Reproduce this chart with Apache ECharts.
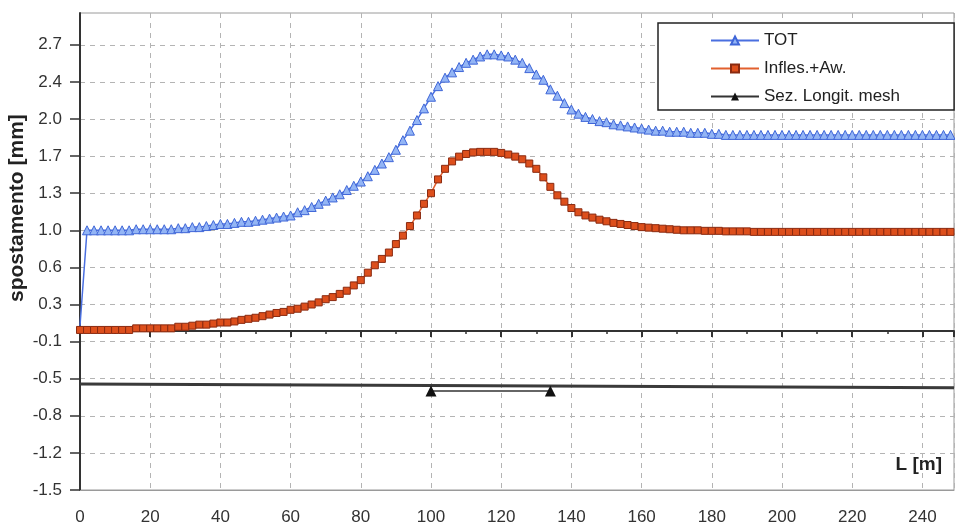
<!DOCTYPE html>
<html><head><meta charset="utf-8">
<script src="https://cdn.jsdelivr.net/npm/echarts@6/dist/echarts.min.js"></script>
<style>html,body{margin:0;padding:0;background:#fff}#c{width:955px;height:528px}</style>
</head><body><div id="c"></div>
<script>
// Distance along the section [m]
const L = [0,2,4,6,8,10,12,14,16,18,20,22,24,26,28,30,32,34,36,38,40,42,44,46,48,50,52,54,56,58,60,62,64,66,68,70,72,74,76,78,80,82,84,86,88,90,92,94,96,98,100,102,104,106,108,110,112,114,116,118,120,122,124,126,128,130,132,134,136,138,140,142,144,146,148,150,152,154,156,158,160,162,164,166,168,170,172,174,176,178,180,182,184,186,188,190,192,194,196,198,200,202,204,206,208,210,212,214,216,218,220,222,224,226,228,230,232,234,236,238,240,242,244,246,248];
// TOT [mm]
const tot = [0.05,0.95,0.95,0.95,0.95,0.95,0.95,0.95,0.96,0.96,0.96,0.96,0.96,0.96,0.97,0.97,0.98,0.98,
0.99,1.00,1.01,1.01,1.02,1.03,1.03,1.04,1.05,1.06,1.07,1.08,1.09,1.12,1.14,1.17,1.20,1.23,1.26,1.29,1.33,1.37,1.41,1.46,1.52,1.58,1.64,1.71,1.80,1.89,1.99,2.10,2.21,2.31,2.39,2.44,2.49,2.53,2.56,2.59,2.61,2.61,2.60,2.59,2.56,2.53,2.48,2.42,2.37,2.28,2.22,2.15,2.09,2.05,2.02,2.00,1.98,1.97,1.95,1.94,1.93,1.92,1.91,1.90,1.89,1.89,1.88,1.88,1.88,1.87,1.87,1.87,1.86,1.86,
1.85,1.85,1.85,1.85,1.85,1.85,1.85,1.85,1.85,1.85,1.85,
1.85,1.85,1.85,1.85,1.85,1.85,1.85,1.85,1.85,1.85,1.85,
1.85,1.85,1.85,1.85,1.85,1.85,1.85,1.85,1.85,1.85,1.85];
// Infles.+Aw. [mm]
const infles = [0.01,0.01,0.01,0.01,0.01,0.01,0.01,0.01,0.025,0.025,0.025,0.025,0.025,0.025,
0.04,0.04,0.05,0.06,0.06,0.07,0.08,0.08,0.09,0.105,
0.115,0.125,0.14,0.155,0.17,0.18,0.20,0.21,0.23,0.25,
0.27,0.30,0.32,0.35,0.38,0.43,0.48,0.55,0.62,0.68,
0.74,0.82,0.90,0.99,1.09,1.20,1.30,1.43,1.53,1.60,
1.645,1.67,1.685,1.69,1.69,1.69,1.68,1.665,1.645,1.62,
1.58,1.53,1.45,1.36,1.28,1.22,1.16,1.12,1.09,1.07,
1.05,1.035,1.02,1.01,1.00,0.99,0.98,0.975,0.97,0.965,
0.96,0.955,
0.95,0.95,0.95,0.945,0.945,0.945,0.94,0.94,0.94,0.94,
0.935,0.935,0.935,0.935,0.935,0.935,0.935,0.935,0.935,0.935,
0.935,0.935,0.935,0.935,0.935,0.935,0.935,0.935,0.935,0.935,
0.935,0.935,0.935,0.935,0.935,0.935,0.935,0.935,0.935];
// Sez. Longit. mesh
const meshL = [100, 134];
const mesh = [-0.565, -0.565];
// reference line across the section
const baseL = [0, 249];
const base = [-0.50, -0.535];
// y tick labels (ticks every 0.35 from -1.5, axis -1.5 .. 3.0)
const yTickLabels = ['-1.5','-1.2','-0.8','-0.5','-0.1','0.3','0.6','1.0','1.3','1.7','2.0','2.4','2.7'];
const yTickIdx = [0,1,2,3,4,5,6,7,8,9,10,11,12];
const xTickLabels = ['0','20','40','60','80','100','120','140','160','180','200','220','240'];

const Y_MIN = -1.5, Y_MAX = 3.0, Y_STEP = 0.35;
const FONT = 'Arial, "Liberation Sans", sans-serif';
const chart = echarts.init(document.getElementById('c'), null, {renderer: 'canvas'});
const dash = {type: [5, 5], color: '#b4b4b4', width: 1};

chart.setOption({
  animation: false,
  backgroundColor: '#fff',
  grid: {left: 80, right: 1, top: 13, bottom: 38, show: true, borderColor: '#9a9a9a', borderWidth: 1},
  legend: {
    orient: 'vertical', left: 658, top: 23,
    padding: [9, 54, 5, 52], itemGap: 11, itemWidth: 48, itemHeight: 10,
    borderColor: '#222', borderWidth: 1.5, backgroundColor: '#fff', borderRadius: 0,
    data: ['TOT', 'Infles.+Aw.', 'Sez. Longit. mesh'],
    textStyle: {fontFamily: FONT, fontSize: 17, color: '#222'}
  },
  xAxis: [
    {
      type: 'value', min: 0, max: 249, interval: 20, position: 'bottom',
      axisLine: {show: true, onZero: false, lineStyle: {color: '#9a9a9a', width: 1}},
      axisTick: {show: false},
      axisLabel: {margin: 19, fontFamily: FONT, fontSize: 17, color: '#333', showMaxLabel: false,
        formatter: v => xTickLabels[Math.round(v / 20)] || ''},
      splitLine: {show: true, lineStyle: dash}
    },
    {
      type: 'value', min: 0, max: 249, interval: 20, position: 'bottom',
      axisLine: {show: true, onZero: true, onZeroAxisIndex: 0, lineStyle: {color: '#333', width: 2}},
      axisTick: {show: true, length: 6, lineStyle: {color: '#333', width: 2}},
      minorTick: {show: true, splitNumber: 2, length: 3, lineStyle: {color: '#333', width: 1.5}},
      axisLabel: {show: false},
      splitLine: {show: false}
    }
  ],
  yAxis: [
    {
      type: 'value', min: Y_MIN, max: Y_MAX, position: 'left',
      axisLine: {show: false}, axisTick: {show: false}, axisLabel: {show: false}, splitLine: {show: false}
    },
    {
      type: 'value', min: 0, max: (Y_MAX - Y_MIN) / Y_STEP, interval: 1, position: 'left',
      axisLine: {show: true, onZero: false, lineStyle: {color: '#333', width: 2}},
      axisTick: {show: true, length: 10, customValues: yTickIdx, lineStyle: {color: '#333', width: 1.5}},
      axisLabel: {margin: 18, fontFamily: FONT, fontSize: 17, color: '#333', customValues: yTickIdx,
        formatter: v => yTickLabels[Math.round(v)] || ''},
      splitLine: {show: true, lineStyle: dash}
    }
  ],
  graphic: [
    {type: 'text', x: 7, y: 302, rotation: Math.PI / 2,
     style: {text: 'spostamento [mm]', font: 'bold 21px ' + FONT, fill: '#222'}},
    {type: 'text', right: 13, top: 455, style: {text: 'L [m]', font: 'bold 19px ' + FONT, fill: '#222'}}
  ],
  series: [
    {
      name: 'asse', type: 'line', xAxisIndex: 0, yAxisIndex: 0, symbol: 'none', silent: true,
      data: baseL.map((x, i) => [x, base[i]]),
      lineStyle: {color: '#3a3a3a', width: 3}, z: 3
    },
    {
      name: 'Sez. Longit. mesh', type: 'line', xAxisIndex: 0, yAxisIndex: 0,
      symbol: 'triangle', symbolSize: 11, showAllSymbol: true,
      data: meshL.map((x, i) => [x, mesh[i]]),
      itemStyle: {color: '#111'}, lineStyle: {color: '#333', width: 1.5}, z: 4
    },
    {
      name: 'Infles.+Aw.', type: 'line', xAxisIndex: 0, yAxisIndex: 0,
      symbol: 'rect', symbolSize: 7, showAllSymbol: true,
      data: L.map((x, i) => [x, infles[i]]),
      itemStyle: {color: '#dd4f1c', borderColor: '#8a2a10', borderWidth: 1},
      lineStyle: {color: '#e2602e', width: 1.5}, z: 5
    },
    {
      name: 'TOT', type: 'line', xAxisIndex: 0, yAxisIndex: 0,
      symbol: 'triangle', symbolSize: 9, showAllSymbol: true,
      data: L.map((x, i) => i === 0 ? {value: [x, tot[i]], symbol: 'none'} : [x, tot[i]]),
      itemStyle: {color: '#93b5f5', borderColor: '#3f66d8', borderWidth: 1},
      lineStyle: {color: '#4a6fe0', width: 1.5}, z: 6
    }
  ]
});
</script></body></html>
